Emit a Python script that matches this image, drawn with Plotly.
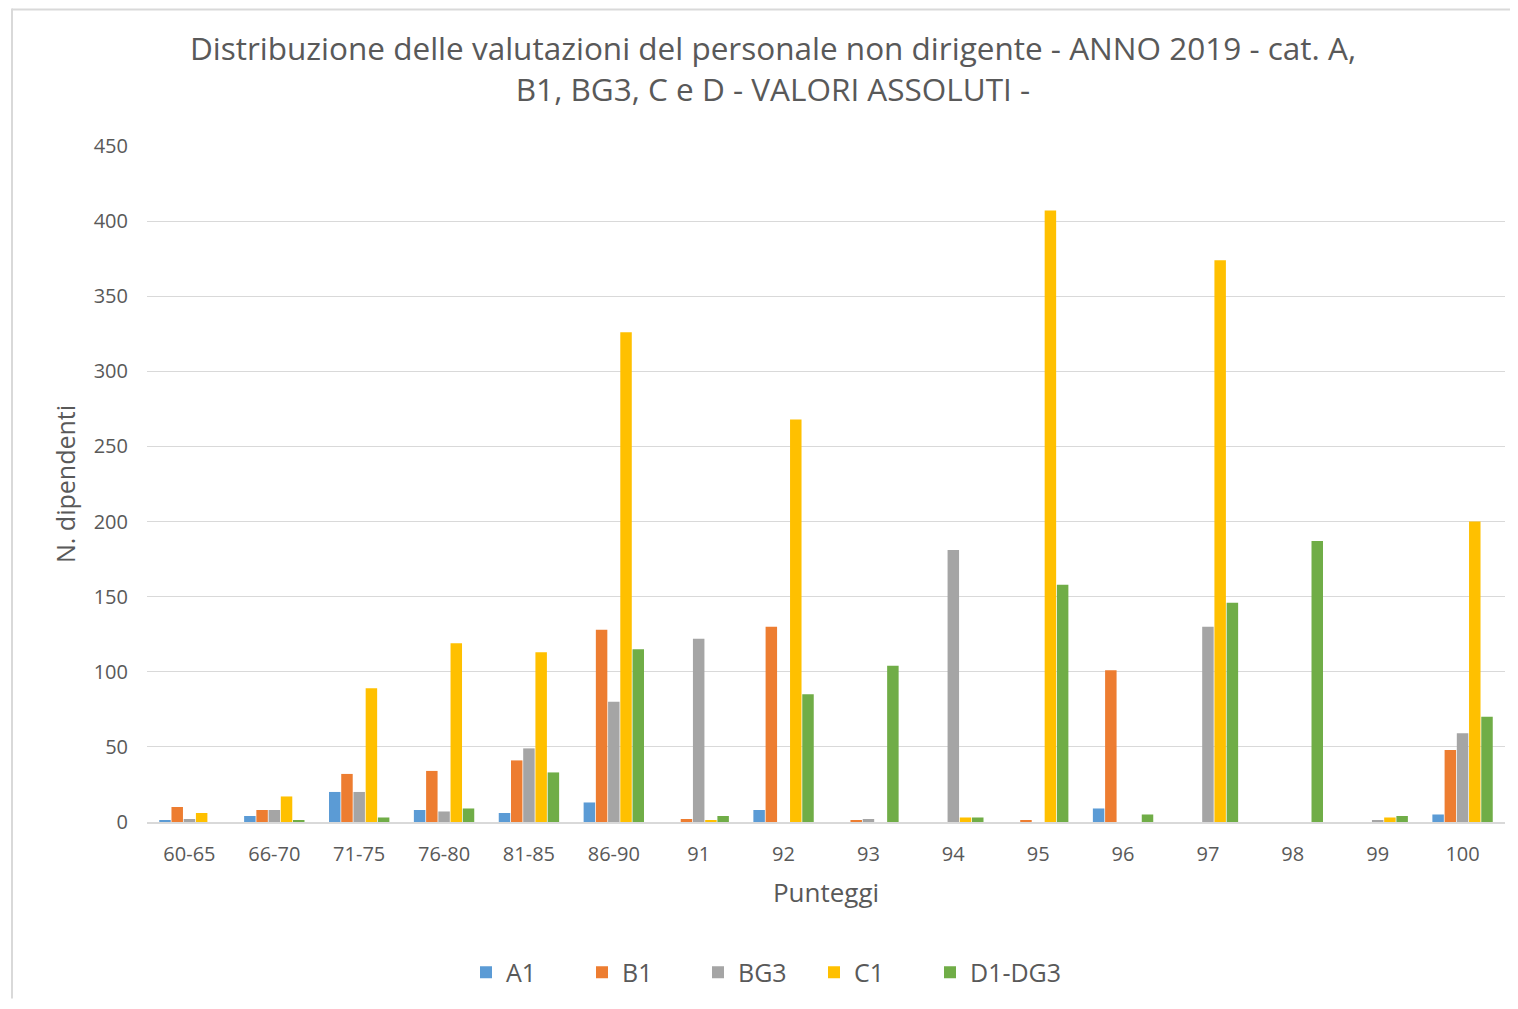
import plotly.graph_objects as go

categories = ["60-65", "66-70", "71-75", "76-80", "81-85", "86-90", "91", "92",
              "93", "94", "95", "96", "97", "98", "99", "100"]

a1 = [1, 4, 20, 8, 6, 13, 0, 8, 0, 0, 0, 9, 0, 0, 0, 5]
b1 = [10, 8, 32, 34, 41, 128, 2, 130, 1, 0, 1, 101, 0, 0, 0, 48]
bg3 = [2, 8, 20, 7, 49, 80, 122, 0, 2, 181, 0, 0, 130, 0, 1, 59]
c1 = [6, 17, 89, 119, 113, 326, 1, 268, 0, 3, 407, 0, 374, 0, 3, 200]
d1 = [0, 1, 3, 9, 33, 115, 4, 85, 104, 3, 158, 5, 146, 187, 4, 70]

series = [("A1", a1, "#5B9BD5"), ("B1", b1, "#ED7D31"), ("BG3", bg3, "#A5A5A5"),
          ("C1", c1, "#FFC000"), ("D1-DG3", d1, "#70AD47")]

fig = go.Figure()
for name, vals, col in series:
    fig.add_trace(go.Bar(x=categories, y=vals, name=name, marker_color=col,
                         marker_line_width=0))
# empty invisible entry (scatter, so it doesn't take a bar slot) to keep the
# last legend label from being clipped by entrywidth
fig.add_trace(go.Scatter(x=[None], y=[None], name="", mode="markers",
                         marker=dict(color="rgba(0,0,0,0)"), hoverinfo="skip"))

# page body has an 8px margin, so the figure is drawn 8px in from the window edge
W, H = 1502, 993
L, R, T, B = 139, 5, 138, 177
pw, ph = W - L - R, H - T - B

fig.update_layout(
    width=W, height=H,
    margin=dict(l=L, r=R, t=T, b=B),
    paper_bgcolor="white", plot_bgcolor="white",
    font=dict(family="Open Sans, Liberation Sans, sans-serif", color="#595959"),
    barmode="group", bargap=0.28, bargroupgap=0.06,
    title=dict(text="Distribuzione delle valutazioni del personale non dirigente - ANNO 2019 - cat. A,<br>B1, BG3, C e D - VALORI ASSOLUTI -",
               x=765 / W, xanchor="center", y=1 - 52 / H, yanchor="top",
               font=dict(size=31.5, color="#595959")),
    xaxis=dict(title=dict(text="Punteggi", font=dict(size=26), standoff=18),
               tickfont=dict(size=20), showline=True, linecolor="#D9D9D9", linewidth=1.5,
               ticks="", ticklabelstandoff=13),
    yaxis=dict(title=dict(text="N. dipendenti", font=dict(size=25), standoff=10),
               range=[0, 450], dtick=50, tickfont=dict(size=20),
               gridcolor="#D9D9D9", gridwidth=1, zeroline=False, ticks="",
               ticklabelstandoff=18),
    legend=dict(orientation="h", x=(458 - L) / pw, xanchor="left",
                y=-151 / ph, yanchor="middle",
                font=dict(size=25), traceorder="normal",
                entrywidth=71, entrywidthmode="pixels"),
    shapes=[
        dict(type="line", xref="paper", yref="paper",
             x0=(4 - L) / pw, x1=(4 - L) / pw, y0=-B / ph, y1=(H - B) / ph,
             line=dict(color="#D9D9D9", width=2)),
        dict(type="line", xref="paper", yref="paper",
             x0=(4 - L) / pw, x1=(W - L) / pw, y0=(H - 1 - B) / ph, y1=(H - 1 - B) / ph,
             line=dict(color="#D9D9D9", width=2)),
    ],
)

fig.write_html("out.html")
